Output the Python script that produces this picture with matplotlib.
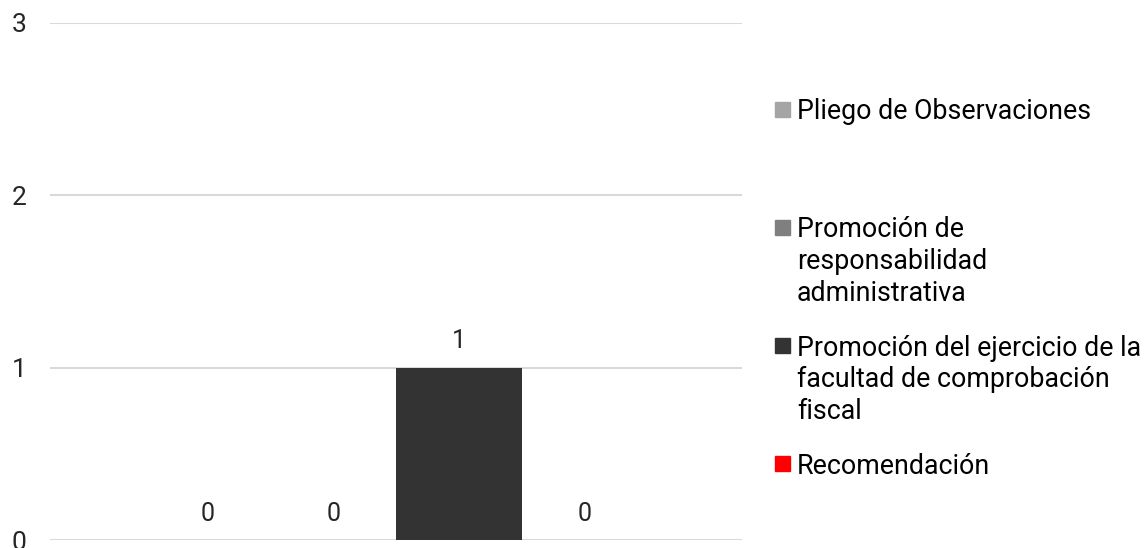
import matplotlib.pyplot as plt
from matplotlib.patches import Rectangle

series = [
    "Pliego de Observaciones",
    "Promoción de\nresponsabilidad\nadministrativa",
    "Promoción del ejercicio de la\nfacultad de comprobación\nfiscal",
    "Recomendación",
]
values = [0, 0, 1, 0]
colors = ["#a5a5a5", "#7f7f7f", "#333333", "#ff0000"]
yticks = [0, 1, 2, 3]

plt.rcParams["font.family"] = ["Roboto", "DejaVu Sans"]

fig = plt.figure(figsize=(11.45, 5.48), dpi=100)
ax = fig.add_axes([50 / 1145, 8 / 548, 692 / 1145, 517 / 548])

w = 0.25
n = len(values)
for i, (v, c) in enumerate(zip(values, colors)):
    x = (i - (n - 1) / 2) * w
    ax.bar(x, v, width=w, color=c, zorder=3)
    ax.annotate(str(v), (x, v), xytext=(0, 19), textcoords="offset points",
                ha="center", va="center", fontsize=18, color="#262626")

ax.set_xlim(-0.689, 0.689)
ax.set_ylim(0, 3)
ax.set_yticks(yticks)
ax.set_xticks([])
ax.grid(axis="y", color="#d9d9d9", linewidth=1.5, zorder=0)
ax.tick_params(axis="y", length=0, pad=17, labelsize=19, labelcolor="#262626")
for s in ax.spines.values():
    s.set_visible(False)

# legend drawn by hand so the square sits beside the first line
top_y = 109
step = 118.3
for i, (name, c) in enumerate(zip(series, colors)):
    yc = top_y + i * step
    fig.patches.append(Rectangle((775 / 1145, 1 - (yc + 7.5) / 548), 15 / 1145, 15 / 548,
                                 transform=fig.transFigure, color=c))
    fig.text(797 / 1145, 1 - (yc - 11) / 548, name, ha="left", va="top",
             fontsize=19.3, color="#000000", linespacing=1.22)

fig.savefig("out.png", dpi=100)
